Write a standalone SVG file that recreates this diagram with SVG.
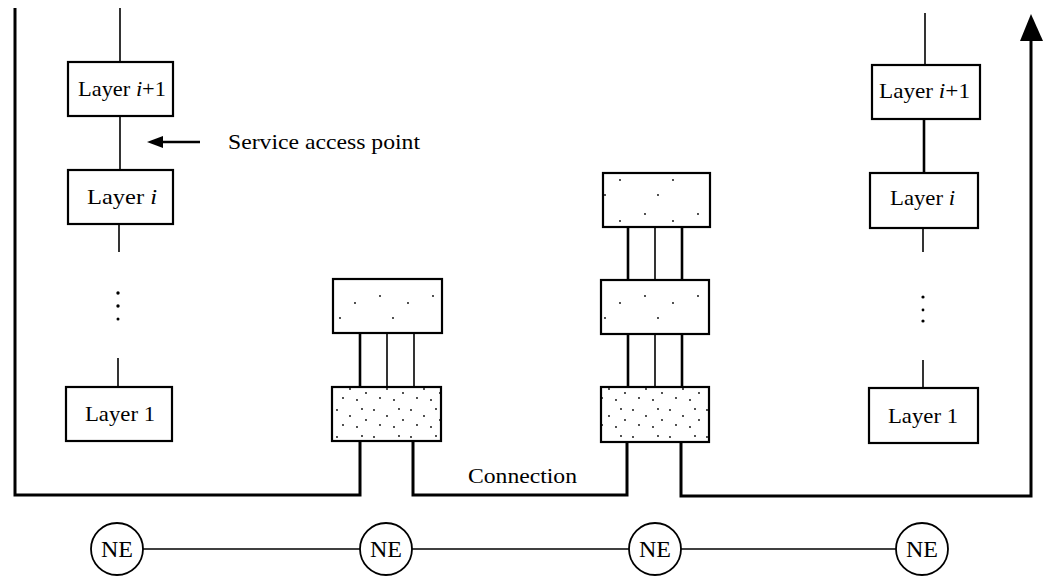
<svg xmlns="http://www.w3.org/2000/svg" width="1053" height="577" viewBox="0 0 1053 577">
<style>
.box{fill:#fff;stroke:#000;stroke-width:2.2}
.sbox{stroke:#000;stroke-width:2.2}
.ln{stroke:#000;stroke-width:1.6;fill:none}
.thk{stroke:#000;stroke-width:2.6;fill:none}
.conn{stroke:#000;stroke-width:3;fill:none}
.t{font-family:"Liberation Serif","Times New Roman",serif;font-size:21px;fill:#000}
.ne{font-family:"Liberation Serif","Times New Roman",serif;font-size:24px;fill:#000;text-anchor:middle}
.c{fill:#fff;stroke:#000;stroke-width:1.8}
</style>
<defs>
<pattern id="sp1" width="53" height="41" patternUnits="userSpaceOnUse">
<rect width="53" height="41" fill="#fff"/>
<circle cx="9" cy="9" r="0.9" fill="#000"/><circle cx="37" cy="16" r="0.9" fill="#000"/><circle cx="22" cy="31" r="0.9" fill="#000"/>
</pattern>
<pattern id="sp2" width="37" height="27" patternUnits="userSpaceOnUse">
<rect width="37" height="27" fill="#fff"/>
<circle cx="4" cy="5" r="0.9" fill="#000"/><circle cx="17" cy="11" r="0.9" fill="#000"/><circle cx="29" cy="4" r="0.9" fill="#000"/><circle cx="10" cy="20" r="0.9" fill="#000"/><circle cx="24" cy="22" r="0.9" fill="#000"/><circle cx="33" cy="15" r="0.9" fill="#000"/>
</pattern>
</defs>
<rect width="1053" height="577" fill="#fff"/>

<g id="connectors">
<path class="conn" d="M15,8 V495 H360 V441"/>
<path class="conn" d="M413,441 V495 H627 V442"/>
<path class="conn" d="M681,442 V496 H1031 V40"/>
<path d="M1020,41 L1031,14 L1043,41 Z" fill="#000"/>
<line class="ln" x1="120" y1="8" x2="120" y2="62"/>
<line class="ln" x1="120" y1="116" x2="120" y2="170"/>
<line class="ln" x1="119" y1="224" x2="119" y2="252"/>
<line class="ln" x1="118" y1="358" x2="118" y2="386"/>
<line class="ln" x1="925" y1="13" x2="925" y2="65"/>
<line class="thk" x1="924" y1="120" x2="924" y2="173"/>
<line class="ln" x1="923" y1="228" x2="923" y2="252"/>
<line class="ln" x1="923" y1="360" x2="923" y2="388"/>
<line class="thk" x1="360" y1="333" x2="360" y2="387"/>
<line class="ln" x1="387" y1="333" x2="387" y2="387"/>
<line class="ln" x1="414" y1="333" x2="414" y2="387"/>
<line class="thk" x1="628" y1="227" x2="628" y2="280"/>
<line class="ln" x1="655" y1="227" x2="655" y2="280"/>
<line class="thk" x1="682" y1="227" x2="682" y2="280"/>
<line class="thk" x1="628" y1="334" x2="628" y2="387"/>
<line class="ln" x1="655" y1="334" x2="655" y2="387"/>
<line class="thk" x1="682" y1="334" x2="682" y2="387"/>
<line class="ln" x1="143" y1="549" x2="360" y2="549"/>
<line class="ln" x1="412" y1="549" x2="629" y2="549"/>
<line class="ln" x1="681" y1="549" x2="896" y2="549"/>
<line class="thk" x1="160" y1="142" x2="200" y2="142"/>
<path d="M147,142 L163,136 L163,148 Z" fill="#000"/>
</g>

<g id="dots">
<circle cx="118" cy="293" r="1.7" fill="#000"/><circle cx="118" cy="306" r="1.7" fill="#000"/><circle cx="118" cy="319" r="1.5" fill="#000"/>
<circle cx="923" cy="297" r="1.6" fill="#000"/><circle cx="923" cy="310" r="1.4" fill="#000"/><circle cx="923" cy="321" r="1.6" fill="#000"/>
</g>

<g id="left-layer-i1"><rect class="box" x="68" y="62" width="105" height="54"/><text class="t" x="78" y="96" textLength="88" lengthAdjust="spacingAndGlyphs">Layer <tspan font-style="italic">i</tspan>+1</text></g>
<g id="left-layer-i"><rect class="box" x="68" y="170" width="105" height="54"/><text class="t" x="87" y="204" textLength="70" lengthAdjust="spacingAndGlyphs">Layer <tspan font-style="italic">i</tspan></text></g>
<g id="left-layer-1"><rect class="box" x="66" y="387" width="106" height="54"/><text class="t" x="85" y="421" textLength="70" lengthAdjust="spacingAndGlyphs">Layer 1</text></g>

<g id="right-layer-i1"><rect class="box" x="872" y="65" width="108" height="54"/><text class="t" x="879" y="98" textLength="91" lengthAdjust="spacingAndGlyphs">Layer <tspan font-style="italic">i</tspan>+1</text></g>
<g id="right-layer-i"><rect class="box" x="870" y="173" width="108" height="55"/><text class="t" x="890" y="205" textLength="65" lengthAdjust="spacingAndGlyphs">Layer <tspan font-style="italic">i</tspan></text></g>
<g id="right-layer-1"><rect class="box" x="869" y="388" width="109" height="55"/><text class="t" x="888" y="423" textLength="70" lengthAdjust="spacingAndGlyphs">Layer 1</text></g>

<g id="relay1-upper"><rect class="sbox" x="333" y="279" width="109" height="54" fill="url(#sp1)"/></g>
<g id="relay1-lower"><rect class="sbox" x="332" y="387" width="109" height="54" fill="url(#sp2)"/></g>
<g id="relay2-top"><rect class="sbox" x="603" y="173" width="107" height="54" fill="url(#sp1)"/></g>
<g id="relay2-mid"><rect class="sbox" x="601" y="280" width="108" height="54" fill="url(#sp1)"/></g>
<g id="relay2-lower"><rect class="sbox" x="601" y="387" width="108" height="55" fill="url(#sp2)"/></g>

<g id="label-sap"><text class="t" x="228" y="149" textLength="192" lengthAdjust="spacingAndGlyphs">Service access point</text></g>
<g id="label-connection"><text class="t" x="468" y="483" textLength="109" lengthAdjust="spacingAndGlyphs">Connection</text></g>

<g id="ne1"><circle class="c" cx="117" cy="549" r="26"/><text class="ne" x="117" y="557" textLength="32" lengthAdjust="spacingAndGlyphs">NE</text></g>
<g id="ne2"><circle class="c" cx="386" cy="549" r="26"/><text class="ne" x="386" y="557" textLength="32" lengthAdjust="spacingAndGlyphs">NE</text></g>
<g id="ne3"><circle class="c" cx="655" cy="549" r="26"/><text class="ne" x="655" y="557" textLength="32" lengthAdjust="spacingAndGlyphs">NE</text></g>
<g id="ne4"><circle class="c" cx="922" cy="549" r="26"/><text class="ne" x="922" y="557" textLength="32" lengthAdjust="spacingAndGlyphs">NE</text></g>
</svg>
